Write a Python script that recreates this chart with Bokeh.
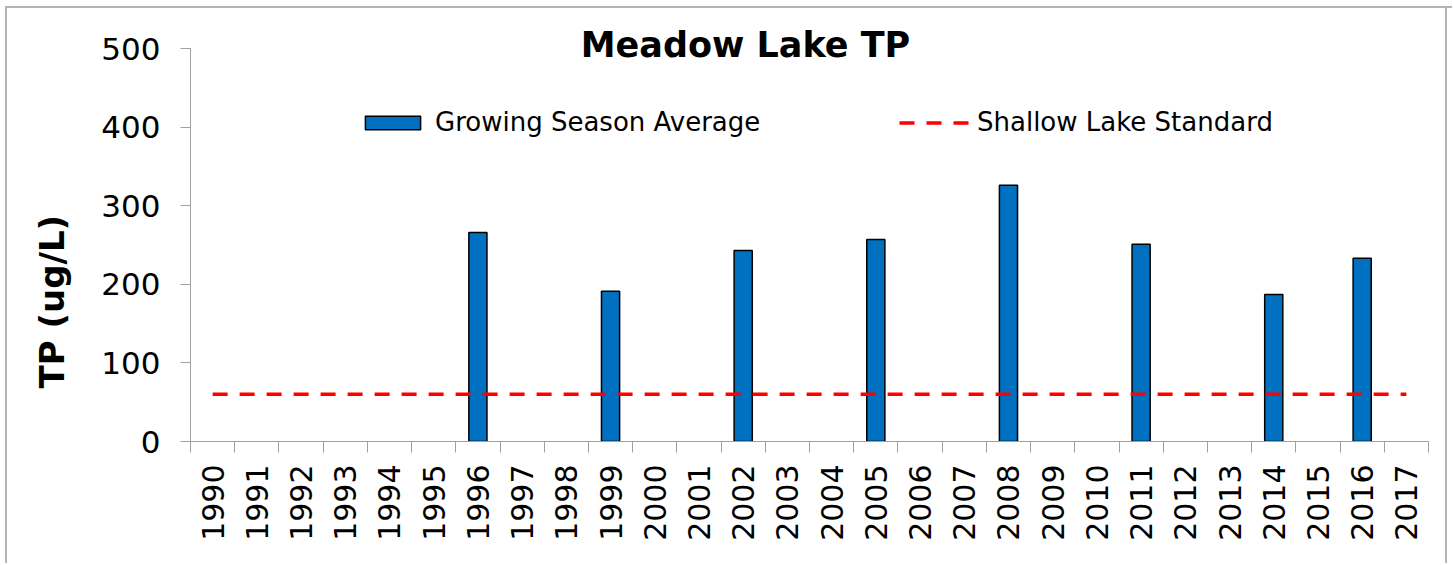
import math
from bokeh.plotting import figure
from bokeh.models import (Range1d, FactorRange, LinearAxis, CategoricalAxis, FixedTicker,
                          Label, Legend, LegendItem, Title)
from bokeh.embed import file_html
from bokeh.resources import INLINE

# ---- data ----
years = [str(y) for y in range(1990, 2018)]
bar_years = ["1996", "1999", "2002", "2005", "2008", "2011", "2014", "2016"]
bar_values = [266, 191, 243, 257, 326, 251, 187, 233]
standard_values = [60, 60, 60, 60, 60, 60, 60, 60, 60, 60, 60, 60, 60, 60,
                   60, 60, 60, 60, 60, 60, 60, 60, 60, 60, 60, 60, 60, 60]
y_ticks = [0, 100, 200, 300, 400, 500]
y_axis_max = 500
title_text = "Meadow Lake TP"
y_label = "TP (ug/L)"
bar_label = "Growing Season Average"
line_label = "Shallow Lake Standard"

FONT = "DejaVu Sans"
AXIS_GRAY = "#a0a0a0"

# frame: 190..1428 px horizontally; value 0 at 441 px, value 500 at 48 px.
# The frame extends above 500 (to 8 px) so the title and legend can sit inside it.
FRAME_TOP, AXIS_TOP, FRAME_BOTTOM = 8, 48, 441
y_end = y_axis_max * (FRAME_BOTTOM - FRAME_TOP) / (FRAME_BOTTOM - AXIS_TOP)

p = figure(x_range=FactorRange(*years), y_range=Range1d(0, y_end),
           width=1452, height=563, output_backend="svg", toolbar_location=None,
           x_axis_location=None,
           min_border_left=190, min_border_right=24, min_border_top=FRAME_TOP,
           min_border_bottom=563 - FRAME_BOTTOM)
p.xgrid.visible = False
p.ygrid.visible = False
p.outline_line_color = None
p.background_fill_color = "white"
p.border_fill_alpha = 0
p.styles = {"background-color": "white",
            "box-shadow": "inset 5px 6px 0 0 white, inset 7px 8px 0 0 #b4b4b4, "
                          "inset -5px 0 0 0 white, inset -7px 0 0 0 #b4b4b4"}

# y axis
ya = p.yaxis[0]
ya.ticker = FixedTicker(ticks=y_ticks)
ya.bounds = (0, y_axis_max)
ya.major_tick_out = 10
ya.major_tick_in = 0
ya.minor_tick_line_color = None
ya.axis_line_color = AXIS_GRAY
ya.major_tick_line_color = AXIS_GRAY
ya.major_label_text_font = FONT
ya.major_label_text_font_size = "31px"
ya.major_label_text_color = "black"
ya.major_label_standoff = 20

# x tick marks between categories (category boundaries in synthetic coordinates)
tick_axis = LinearAxis(ticker=FixedTicker(ticks=list(range(len(years) + 1))),
                       major_tick_out=11, major_tick_in=0, minor_tick_line_color=None,
                       major_label_text_font_size="1px", major_label_text_color=None,
                       major_label_standoff=0,
                       axis_line_color=AXIS_GRAY, major_tick_line_color=AXIS_GRAY)
p.add_layout(tick_axis, "below")

cat_axis = CategoricalAxis(axis_line_color=None, major_tick_line_color=None,
                           major_tick_out=0, major_tick_in=0,
                           major_label_orientation=math.pi / 2,
                           major_label_text_font=FONT, major_label_text_font_size="30px",
                           major_label_text_color="black", major_label_standoff=12)
p.add_layout(cat_axis, "below")

# data marks
bars = p.vbar(x=bar_years, top=bar_values, width=0.41, bottom=0,
              fill_color="#0070C0", line_color="black", line_width=1.5)
std = p.line(x=years, y=standard_values, line_color="#ff0000", line_width=3.5,
             line_dash="15 12")

# title (inside the frame) and y label (left title)
p.add_layout(Label(x=555, y=397, x_units="screen", y_units="screen", text=title_text,
                   text_font=FONT, text_font_style="bold", text_font_size="35px",
                   text_align="center", text_baseline="middle", text_color="black"))
p.add_layout(Title(text=y_label, align="left", offset=53, text_font=FONT,
                   text_font_style="bold", text_font_size="34px", text_color="black",
                   standoff=54), "left")

# legends
common = dict(padding=0, margin=0, border_line_alpha=0, background_fill_alpha=0,
              label_text_font=FONT, label_text_font_size="26px", label_text_color="black",
              label_standoff=8, orientation="horizontal")
leg1 = Legend(items=[LegendItem(label=bar_label, renderers=[bars])], location=(168, 304),
              glyph_width=69, glyph_height=17, **common)
leg2 = Legend(items=[LegendItem(label=line_label, renderers=[std])], location=(709, 304),
              glyph_width=70, glyph_height=17, **common)
p.add_layout(leg1, "center")
p.add_layout(leg2, "center")

open("out.html", "w").write(file_html(p, INLINE))
